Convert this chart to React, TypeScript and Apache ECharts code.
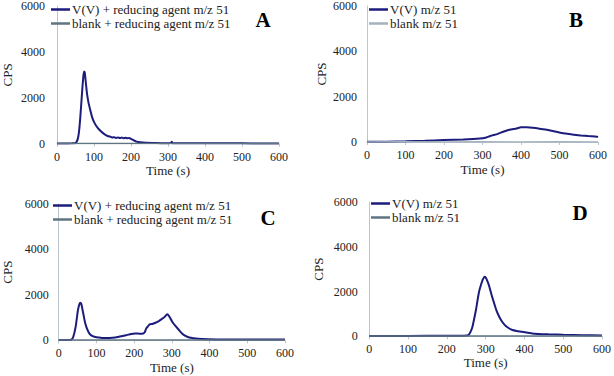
import React, { useEffect, useRef } from "react";
import * as echarts from "echarts";

const FONT = "Liberation Serif";

const yTicks = [0, 2000, 4000, 6000];
const xTicks = [0, 100, 200, 300, 400, 500, 600];

const panelLetters = ["A", "B", "C", "D"];

const nameVA = "V(V) + reducing agent m/z 51";
const nameBlankA = "blank + reducing agent m/z 51";
const nameVB = "V(V) m/z 51";
const nameBlankB = "blank m/z 51";

// Panel A
const aVTime = [0, 20, 40, 48, 52, 56, 59, 62, 65, 68, 71, 73, 75, 78, 81, 85, 90, 95, 102, 110, 120, 128, 137, 145, 150, 155, 160, 165, 170, 175, 180, 185, 190, 195, 200, 207, 215, 225, 240, 260, 280, 300, 308, 310, 312, 350, 400, 450, 500, 550, 600];
const aVVal = [10, 12, 15, 20, 60, 200, 465, 950, 1600, 2300, 2900, 3150, 3100, 2650, 2190, 1800, 1460, 1150, 885, 690, 520, 420, 335, 300, 270, 285, 250, 275, 245, 265, 240, 260, 235, 250, 210, 150, 90, 60, 40, 30, 25, 22, 25, 90, 25, 20, 18, 15, 15, 12, 12];
const aBlankTime = [0, 100, 200, 300, 400, 500, 600];
const aBlankVal = [10, 12, 10, 12, 10, 12, 10];

// Panel B
const bVTime = [0, 50, 100, 150, 200, 250, 293, 310, 320, 340, 354, 370, 389, 400, 415, 430, 445, 458, 470, 485, 502, 520, 537, 555, 575, 597, 600];
const bVVal = [10, 15, 30, 50, 88, 110, 150, 200, 265, 360, 455, 540, 600, 650, 650, 630, 600, 560, 530, 470, 410, 360, 320, 290, 260, 235, 220];
const bBlankTime = [0, 100, 200, 300, 400, 500, 600];
const bBlankVal = [5, 6, 5, 6, 5, 6, 5];

// Panel C
const cVTime = [0, 25, 32, 38, 45, 51, 55, 57, 60, 65, 69, 73, 78, 83, 90, 100, 115, 135, 150, 170, 185, 203, 215, 224, 228, 232, 237, 241, 250, 263, 272, 280, 288, 292, 301, 310, 319, 327, 336, 346, 357, 380, 420, 500, 600];
const cVVal = [8, 10, 20, 120, 600, 1330, 1600, 1655, 1600, 1190, 850, 600, 400, 265, 180, 130, 105, 100, 120, 190, 250, 300, 290, 300, 350, 520, 620, 700, 730, 820, 920, 1010, 1145, 1080, 820, 620, 450, 300, 190, 120, 90, 55, 40, 35, 30];
const cBlankTime = [0, 100, 200, 300, 400, 500, 600];
const cBlankVal = [10, 12, 10, 12, 10, 12, 10];

// Panel D
const dVTime = [0, 100, 200, 240, 250, 256, 261, 266, 270, 275, 279, 283, 288, 292, 296, 298, 301, 305, 309, 313, 317, 322, 328, 335, 343, 352, 360, 369, 380, 394, 420, 462, 500, 550, 600];
const dVVal = [15, 18, 22, 30, 40, 60, 200, 430, 750, 1175, 1600, 1990, 2300, 2510, 2640, 2660, 2600, 2440, 2250, 2000, 1750, 1470, 1150, 875, 640, 460, 360, 280, 240, 205, 130, 90, 70, 50, 40];
const dBlankTime = [0, 100, 200, 300, 400, 500, 600];
const dBlankVal = [10, 12, 10, 12, 10, 12, 10];

const NAVY = "#1c1c7c";
const SLATE = "#5f7582";
const LIGHT = "#a3b2bd";
const AXIS = "#bcc6cd";

const zip = (t: number[], v: number[]) => t.map((x, i) => [x, v[i]]);

export default function App() {
  const ref = useRef<HTMLDivElement>(null);
  useEffect(() => {
    document.body.style.margin = "0";
    if (!ref.current) return;
    const chart = echarts.init(ref.current, undefined, { renderer: "svg" });

    const grids = [
      { left: 49, top: 5.7, width: 230, height: 138 },
      { left: 367, top: 6, width: 231, height: 136 },
      { left: 50.7, top: 204, width: 234.3, height: 136.3 },
      { left: 369.3, top: 202, width: 234.4, height: 134.3 },
    ];
    const yNameGaps = [43, 39, 44.7, 44];
    const yLabelMargins = [12, 10, 10, 11.6];
    const xNameGaps = [19, 21, 21, 18.5];

    const xAxes = grids.map((_, i) => ({
      type: "value",
      gridIndex: i,
      min: xTicks[0],
      max: xTicks[xTicks.length - 1],
      interval: 100,
      name: "Time (s)",
      nameLocation: "middle",
      nameGap: xNameGaps[i],
      nameTextStyle: { fontFamily: FONT, fontSize: 13, color: "#222" },
      axisLine: { show: true, lineStyle: { color: AXIS, width: 1 } },
      axisTick: { show: true, length: 3, lineStyle: { color: AXIS } },
      axisLabel: { fontFamily: FONT, fontSize: 12, color: "#222", margin: 7, formatter: (v: number) => String(v) },
      splitLine: { show: false },
    }));
    const yAxes = grids.map((_, i) => ({
      type: "value",
      gridIndex: i,
      min: yTicks[0],
      max: yTicks[yTicks.length - 1],
      interval: 2000,
      name: "CPS",
      nameLocation: "middle",
      nameGap: yNameGaps[i],
      nameRotate: 90,
      nameTextStyle: { fontFamily: FONT, fontSize: 13, color: "#222" },
      axisLine: { show: true, lineStyle: { color: AXIS, width: 1 } },
      axisTick: { show: false },
      axisLabel: { fontFamily: FONT, fontSize: 12, color: "#222", margin: yLabelMargins[i], formatter: (v: number) => String(v) },
      splitLine: { show: false },
    }));

    const panels = [
      { v: zip(aVTime, aVVal), b: zip(aBlankTime, aBlankVal), vn: nameVA, bn: nameBlankA, bc: SLATE },
      { v: zip(bVTime, bVVal), b: zip(bBlankTime, bBlankVal), vn: nameVB, bn: nameBlankB, bc: LIGHT },
      { v: zip(cVTime, cVVal), b: zip(cBlankTime, cBlankVal), vn: nameVA, bn: nameBlankA, bc: SLATE },
      { v: zip(dVTime, dVVal), b: zip(dBlankTime, dBlankVal), vn: nameVB, bn: nameBlankB, bc: SLATE },
    ];

    const series: any[] = [];
    panels.forEach((p, i) => {
      series.push({
        type: "line",
        name: p.vn,
        xAxisIndex: i,
        yAxisIndex: i,
        data: p.v,
        showSymbol: false,
        symbol: "none",
        smooth: 0.2,
        lineStyle: { color: NAVY, width: 2 },
        itemStyle: { color: NAVY },
      });
      series.push({
        type: "line",
        name: p.bn,
        xAxisIndex: i,
        yAxisIndex: i,
        data: p.b,
        showSymbol: false,
        symbol: "none",
        lineStyle: { color: p.bc, width: 1.5 },
        itemStyle: { color: p.bc },
      });
    });

    const legendPos = [
      { left: 51, top: 3 },
      { left: 369, top: 3 },
      { left: 53, top: 199 },
      { left: 371, top: 197 },
    ];
    const legends = panels.map((p, i) => ({
      orient: "vertical",
      left: legendPos[i].left,
      top: legendPos[i].top,
      icon: "rect",
      itemWidth: 19,
      itemHeight: 2.5,
      itemGap: 1,
      padding: 0,
      selectedMode: false,
      textStyle: { fontFamily: FONT, fontSize: 13, color: "#222", lineHeight: 12, padding: [0, 0, 0, -3] },
      data: [
        { name: p.vn, itemStyle: { color: NAVY } },
        { name: p.bn, itemStyle: { color: p.bc } },
      ],
    }));

    const letterPos = [
      [263, 20],
      [576, 20],
      [268, 218],
      [580, 213],
    ];
    const graphic = panelLetters.map((l, i) => ({
      type: "text",
      x: letterPos[i][0],
      y: letterPos[i][1],
      style: {
        text: l,
        font: `bold 21px ${FONT}`,
        fill: "#000",
        align: "center",
        verticalAlign: "middle",
      },
    }));

    chart.setOption({
      animation: false,
      backgroundColor: "#fff",
      grid: grids,
      xAxis: xAxes,
      yAxis: yAxes,
      legend: legends,
      series,
      graphic,
    });
    return () => chart.dispose();
  }, []);
  return <div ref={ref} style={{ width: 614, height: 376 }} />;
}
